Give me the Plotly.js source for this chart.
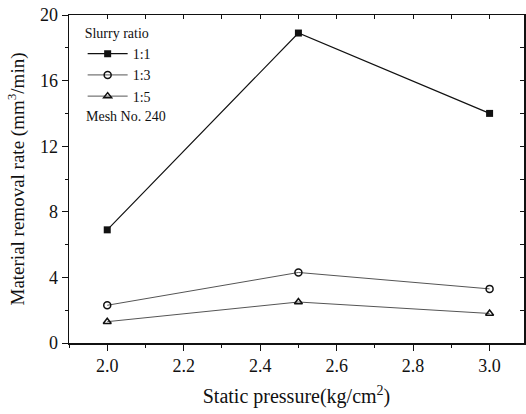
<!DOCTYPE html>
<html>
<head>
<meta charset="utf-8">
<script src="https://cdn.plot.ly/plotly-3.0.1.min.js"></script>
<style>html,body{margin:0;padding:0;background:#fff;}#plot{width:526px;height:414px;}</style>
</head>
<body>
<div id="plot"></div>
<script>
const pressure = [2.0, 2.5, 3.0];
const ratio11 = [6.9, 18.9, 14.0];
const ratio13 = [2.3, 4.3, 3.3];
const ratio15 = [1.3, 2.5, 1.8];
const seriesNames = ['1:1', '1:3', '1:5'];

const xr = [1.9, 3.09];
const yr = [0, 20];
const FAM = '"Liberation Serif", "Times New Roman", serif';
const font = {family: FAM, color: '#111'};
function f(size) { return {family: FAM, color: '#111', size: size}; }

const traces = [
  {x: pressure, y: ratio11, name: seriesNames[0], mode: 'lines+markers',
   line: {color: '#111', width: 1.2},
   marker: {symbol: 'square', size: 7, color: '#111'}},
  {x: pressure, y: ratio13, name: seriesNames[1], mode: 'lines+markers',
   line: {color: '#555', width: 1},
   marker: {symbol: 'circle-open', size: 7, color: '#111', line: {width: 1.5}}},
  {x: pressure, y: ratio15, name: seriesNames[2], mode: 'lines+markers',
   line: {color: '#555', width: 1},
   marker: {symbol: 'triangle-up-open', size: 7, color: '#111', line: {width: 1.5}}},
  {x: [xr[0]], y: [yr[0]], xaxis: 'x2', yaxis: 'y2', mode: 'markers',
   marker: {opacity: 0}, showlegend: false, hoverinfo: 'skip'}
];

const layout = {
  width: 526, height: 414,
  margin: {l: 69, r: 2, t: 15, b: 71},
  paper_bgcolor: '#fff', plot_bgcolor: '#fff',
  font: font,
  showlegend: true,
  legend: {
    x: 0.03, y: 0.985, xanchor: 'left', yanchor: 'top',
    bgcolor: 'rgba(0,0,0,0)', borderwidth: 0,
    font: f(14),
    title: {text: 'Slurry ratio', font: f(14)},
    itemwidth: 40, tracegroupgap: 0
  },
  xaxis: {
    range: xr, dtick: 0.2, tick0: 2.0, tickformat: '.1f',
    showgrid: false, zeroline: false, showline: true, linecolor: '#111', linewidth: 1.5,
    ticks: 'outside', ticklen: 6, tickwidth: 1, tickcolor: '#111',
    minor: {dtick: 0.1, tick0: 2.0, ticks: 'outside', ticklen: 3, tickcolor: '#111', showgrid: false},
    tickfont: f(18),
    title: {text: 'Static pressure(kg/cm<sup>2</sup>)', font: f(20), standoff: 14}
  },
  yaxis: {
    range: yr, dtick: 4, tick0: 0,
    showgrid: false, zeroline: false, showline: true, linecolor: '#111', linewidth: 1.5,
    ticks: 'outside', ticklen: 6, tickwidth: 1, tickcolor: '#111',
    minor: {dtick: 2, ticks: 'outside', ticklen: 3, tickcolor: '#111', showgrid: false},
    tickfont: f(18),
    title: {text: 'Material removal rate (mm<sup>3</sup>/min)', font: f(19), standoff: 10}
  },
  xaxis2: {
    range: xr, overlaying: 'x', side: 'top', anchor: 'y2',
    dtick: 0.1, tick0: 2.0, showticklabels: false,
    showgrid: false, zeroline: false, showline: true, linecolor: '#111', linewidth: 1.5,
    ticks: 'inside', ticklen: 4, tickcolor: '#111'
  },
  yaxis2: {
    range: yr, overlaying: 'y', side: 'right', anchor: 'x2',
    dtick: 2, showticklabels: false,
    showgrid: false, zeroline: false, showline: true, linecolor: '#111', linewidth: 1.5,
    ticks: 'inside', ticklen: 4, tickcolor: '#111'
  },
  annotations: [
    {xref: 'paper', yref: 'paper', x: 0.033, y: 0.692, xanchor: 'left', yanchor: 'middle',
     text: 'Mesh No. 240', showarrow: false, font: f(14)}
  ]
};

Plotly.newPlot('plot', traces, layout, {displayModeBar: false, staticPlot: true});
</script>
</body>
</html>
